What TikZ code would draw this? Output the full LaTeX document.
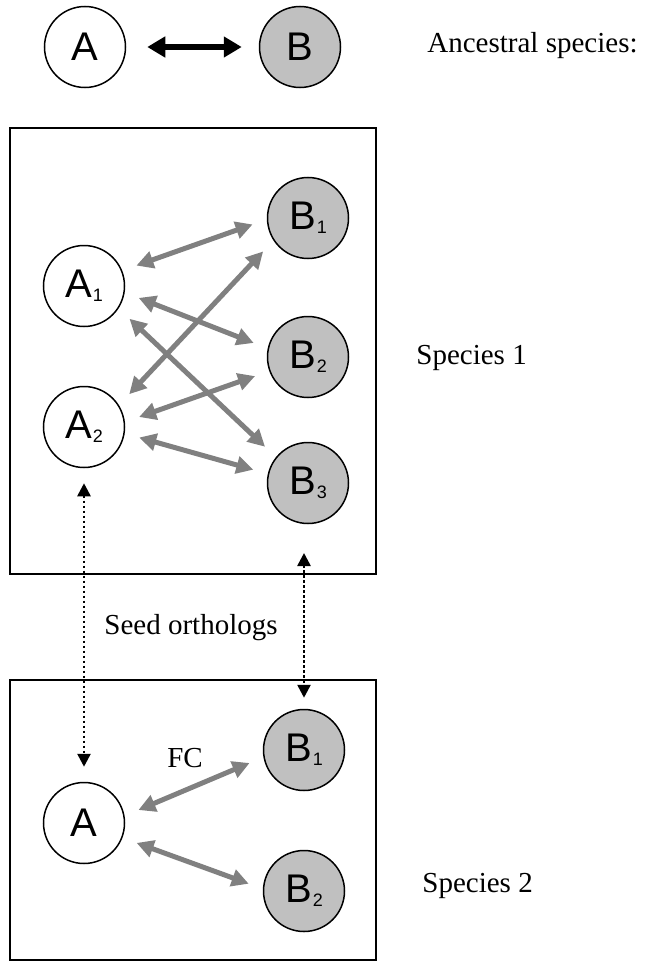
\documentclass[tikz,border=0pt]{standalone}
\usepackage{fontspec}
\setmainfont{Liberation Serif}
\newfontfamily\arialfont{Liberation Sans}
\usetikzlibrary{arrows.meta,positioning}
\definecolor{genegray}{HTML}{C0C0C0}
\definecolor{linkgray}{HTML}{808080}
\newcommand{\gidx}[1]{\kern0.6pt\raisebox{-2pt}{\fontsize{9}{9}\selectfont #1}}

\begin{document}
\begin{tikzpicture}[x=0.5pt, y=-0.5pt]
    \tikzset{
        gene/.style     =   { circle
                            , draw=black
                            , line width=0.75pt
                            , inner sep=0pt
                            , minimum size=40.5pt
                            , font=\arialfont\fontsize{20}{20}\selectfont
        }
        , geneb/.style  =   { gene
                            , fill=genegray
        }
        , frame/.style  =   { draw=black
                            , line width=0.75pt
        }
        , txt/.style    =   { inner sep=0pt
                            , font=\fontsize{14.5}{14.5}\selectfont
        }
        , pair/.style   =   { line width=2.8pt
                            , {Triangle[length=9pt,width=10pt]}-{Triangle[length=9pt,width=10pt]}
                            , shorten >= 8.5pt
                            , shorten <= 10.5pt
        }
        , link/.style   =   { line width=2.5pt
                            , draw=linkgray
                            , {Triangle[length=8.5pt,width=8.5pt]}-{Triangle[length=8.5pt,width=8.5pt]}
                            , shorten >= 7.5pt
                            , shorten <= 7.5pt
        }
        , seed/.style   =   { line width=1.3pt
                            , dash pattern=on 1.3pt off 1.2pt
                            , {Triangle[length=6.5pt,width=6.5pt]}-{Triangle[length=6.5pt,width=6.5pt]}
        }
    }
    \useasboundingbox (0,0) rectangle (649,963);

    % ancestral species
    \node(a)[gene]  at (85,47)  {A};
    \node(b)[geneb] at (300,47) {B};
    \node(anc)[txt, anchor=west] at (427,46) {Ancestral species:};
    \draw[pair] (a) -- (b);

    % species 1
    \draw[frame] (10,128) rectangle (376,574);
    \node(a1)[gene]  at (84,286)  {A\gidx{1}};
    \node(a2)[gene]  at (84,427)  {A\gidx{2}};
    \node(b1)[geneb] at (308,218) {B\gidx{1}};
    \node(b2)[geneb] at (308,357) {B\gidx{2}};
    \node(b3)[geneb] at (308,483) {B\gidx{3}};
    \node(sp1)[txt, anchor=west] at (416,358) {Species 1};

    \draw[link] (a1.22)  -- (b1.182);
    \draw[link] (a1.-9)  -- (b2.168);
    \draw[link] (a1.-33) -- (b3.141);
    \draw[link] (a2.32)  -- (b1.213);
    \draw[link] (a2.7)   -- (b2.200);
    \draw[link] (a2.-9)  -- (b3.167);

    % species 2
    \draw[frame] (10,680) rectangle (376,960);
    \node(c)[gene]   at (84,823)  {A};
    \node(c1)[geneb] at (304,750) {B\gidx{1}};
    \node(c2)[geneb] at (304,891) {B\gidx{2}};
    \node(sp2)[txt, anchor=west] at (422,886) {Species 2};
    \node(fc)[txt] at (185,758) {FC};

    \draw[link] (c.10)  -- (c1.190);
    \draw[link] (c.-21) -- (c2.177);

    % seed orthologs
    \node(so)[txt] at (191,628) {Seed orthologs};
    \coordinate(s3) at (304,553);
    \draw[seed, shorten <= 7.5pt, shorten >= 7.5pt] (a2.south) -- (c.north);
    \draw[seed, shorten >= 5.5pt] (s3) -- (c1.north);
\end{tikzpicture}
\end{document}
